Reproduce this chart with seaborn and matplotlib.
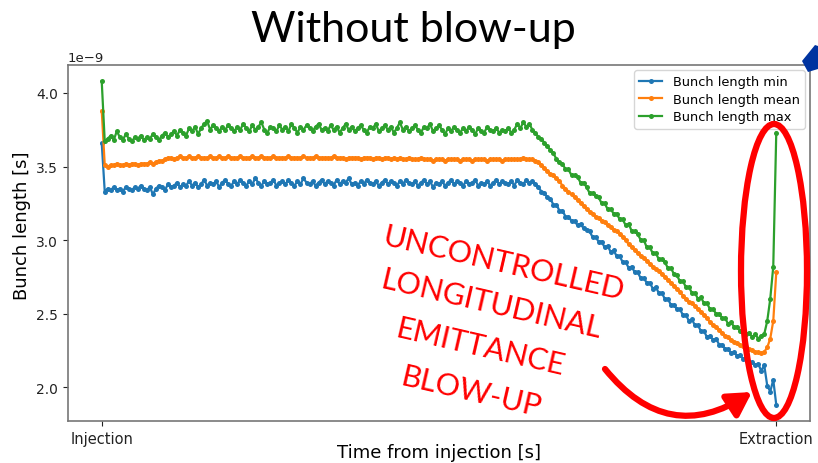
import numpy as np
import matplotlib
matplotlib.use("Agg")
import matplotlib.pyplot as plt
import seaborn as sns
from matplotlib.patches import Ellipse, FancyArrowPatch, Polygon

# bunch length per sample, in ns
bl_min = [
    3.66, 3.33, 3.35, 3.34, 3.36, 3.34, 3.35, 3.33, 3.36, 3.35, 3.34, 3.36, 3.35, 3.37, 3.35,
    3.34, 3.36, 3.31, 3.35, 3.37, 3.36, 3.34, 3.38, 3.36, 3.37, 3.39, 3.36, 3.38, 3.37, 3.40,
    3.37, 3.39, 3.36, 3.38, 3.41, 3.37, 3.39, 3.38, 3.40, 3.36, 3.39, 3.41, 3.38, 3.37, 3.40,
    3.38, 3.41, 3.39, 3.37, 3.40, 3.38, 3.42, 3.39, 3.37, 3.40, 3.38, 3.39, 3.41, 3.37, 3.39,
    3.40, 3.38, 3.41, 3.39, 3.37, 3.40, 3.38, 3.42, 3.39, 3.38, 3.40, 3.37, 3.39, 3.41, 3.38,
    3.40, 3.39, 3.37, 3.41, 3.38, 3.40, 3.39, 3.42, 3.38, 3.39, 3.37, 3.40, 3.38, 3.41, 3.39,
    3.38, 3.40, 3.37, 3.39, 3.41, 3.38, 3.40, 3.39, 3.37, 3.40, 3.38, 3.41, 3.39, 3.38, 3.40,
    3.37, 3.39, 3.41, 3.38, 3.40, 3.36, 3.39, 3.38, 3.40, 3.37, 3.39, 3.41, 3.38, 3.40, 3.39,
    3.37, 3.40, 3.38, 3.39, 3.41, 3.37, 3.39, 3.38, 3.40, 3.37, 3.39, 3.41, 3.38, 3.40, 3.39,
    3.38, 3.40, 3.37, 3.41, 3.39, 3.38, 3.41, 3.39, 3.40, 3.38, 3.36, 3.33, 3.32, 3.29, 3.28,
    3.24, 3.24, 3.20, 3.20, 3.16, 3.16, 3.13, 3.13, 3.10, 3.11, 3.08, 3.07, 3.06, 3.02, 3.02,
    2.99, 2.99, 2.95, 2.96, 2.92, 2.93, 2.89, 2.89, 2.85, 2.85, 2.81, 2.82, 2.78, 2.78, 2.74,
    2.74, 2.71, 2.71, 2.67, 2.68, 2.64, 2.64, 2.60, 2.60, 2.56, 2.56, 2.53, 2.53, 2.49, 2.49,
    2.45, 2.46, 2.42, 2.42, 2.38, 2.38, 2.34, 2.35, 2.32, 2.33, 2.29, 2.29, 2.26, 2.26, 2.23,
    2.24, 2.21, 2.22, 2.19, 2.20, 2.17, 2.17, 2.15, 2.16, 2.11, 2.15, 2.01, 1.97, 2.05, 1.88,
]
bl_mean = [
    3.88, 3.51, 3.50, 3.51, 3.51, 3.52, 3.51, 3.51, 3.52, 3.51, 3.52, 3.52, 3.51, 3.52, 3.52,
    3.52, 3.53, 3.52, 3.53, 3.54, 3.54, 3.55, 3.56, 3.56, 3.55, 3.56, 3.57, 3.56, 3.56, 3.57,
    3.56, 3.56, 3.57, 3.56, 3.56, 3.56, 3.57, 3.56, 3.56, 3.57, 3.56, 3.56, 3.57, 3.56, 3.56,
    3.56, 3.57, 3.56, 3.56, 3.56, 3.57, 3.56, 3.56, 3.57, 3.56, 3.56, 3.56, 3.57, 3.56, 3.56,
    3.56, 3.56, 3.57, 3.56, 3.56, 3.56, 3.56, 3.57, 3.56, 3.56, 3.56, 3.57, 3.56, 3.56, 3.56,
    3.56, 3.56, 3.57, 3.56, 3.56, 3.56, 3.55, 3.56, 3.56, 3.56, 3.56, 3.55, 3.56, 3.56, 3.56,
    3.55, 3.56, 3.56, 3.55, 3.56, 3.56, 3.55, 3.56, 3.55, 3.56, 3.55, 3.55, 3.56, 3.55, 3.55,
    3.55, 3.56, 3.55, 3.55, 3.55, 3.54, 3.55, 3.55, 3.55, 3.54, 3.55, 3.55, 3.55, 3.55, 3.54,
    3.55, 3.55, 3.55, 3.54, 3.55, 3.55, 3.55, 3.55, 3.54, 3.55, 3.55, 3.55, 3.55, 3.54, 3.55,
    3.55, 3.55, 3.55, 3.55, 3.55, 3.56, 3.55, 3.55, 3.55, 3.54, 3.53, 3.51, 3.49, 3.47, 3.45,
    3.44, 3.42, 3.40, 3.37, 3.35, 3.33, 3.31, 3.29, 3.27, 3.25, 3.23, 3.21, 3.19, 3.18, 3.16,
    3.15, 3.13, 3.12, 3.10, 3.09, 3.07, 3.06, 3.04, 3.02, 3.00, 2.97, 2.95, 2.93, 2.91, 2.89,
    2.88, 2.86, 2.84, 2.82, 2.80, 2.79, 2.77, 2.75, 2.73, 2.71, 2.69, 2.67, 2.65, 2.62, 2.60,
    2.58, 2.57, 2.55, 2.53, 2.51, 2.49, 2.47, 2.44, 2.42, 2.41, 2.39, 2.37, 2.35, 2.34, 2.32,
    2.31, 2.30, 2.29, 2.28, 2.27, 2.26, 2.25, 2.24, 2.24, 2.23, 2.24, 2.27, 2.33, 2.45, 2.78,
]
bl_max = [
    4.08, 3.67, 3.69, 3.71, 3.68, 3.74, 3.70, 3.68, 3.72, 3.69, 3.67, 3.70, 3.69, 3.71, 3.68,
    3.70, 3.69, 3.72, 3.70, 3.68, 3.71, 3.73, 3.70, 3.72, 3.74, 3.71, 3.75, 3.73, 3.71, 3.76,
    3.74, 3.77, 3.72, 3.76, 3.79, 3.81, 3.75, 3.78, 3.76, 3.74, 3.77, 3.75, 3.78, 3.76, 3.74,
    3.77, 3.75, 3.79, 3.76, 3.74, 3.78, 3.75, 3.77, 3.80, 3.75, 3.73, 3.77, 3.76, 3.74, 3.78,
    3.75, 3.77, 3.74, 3.79, 3.76, 3.73, 3.77, 3.75, 3.78, 3.76, 3.74, 3.77, 3.79, 3.75, 3.76,
    3.74, 3.78, 3.75, 3.77, 3.73, 3.76, 3.79, 3.75, 3.77, 3.74, 3.76, 3.78, 3.75, 3.73, 3.77,
    3.76, 3.79, 3.74, 3.76, 3.78, 3.75, 3.77, 3.73, 3.76, 3.80, 3.75, 3.77, 3.74, 3.76, 3.78,
    3.75, 3.73, 3.77, 3.76, 3.79, 3.74, 3.76, 3.78, 3.75, 3.72, 3.76, 3.74, 3.77, 3.75, 3.73,
    3.76, 3.74, 3.77, 3.75, 3.72, 3.76, 3.74, 3.73, 3.77, 3.75, 3.74, 3.76, 3.73, 3.75, 3.74,
    3.76, 3.73, 3.75, 3.79, 3.76, 3.80, 3.77, 3.79, 3.75, 3.73, 3.70, 3.69, 3.66, 3.64, 3.61,
    3.59, 3.55, 3.53, 3.52, 3.48, 3.48, 3.44, 3.44, 3.43, 3.39, 3.39, 3.36, 3.32, 3.32, 3.30,
    3.29, 3.25, 3.25, 3.21, 3.21, 3.18, 3.18, 3.14, 3.14, 3.10, 3.11, 3.06, 3.06, 3.04, 3.00,
    3.00, 2.95, 2.95, 2.91, 2.91, 2.87, 2.87, 2.85, 2.81, 2.81, 2.77, 2.76, 2.72, 2.72, 2.68,
    2.68, 2.64, 2.64, 2.60, 2.61, 2.57, 2.57, 2.53, 2.53, 2.50, 2.50, 2.47, 2.47, 2.43, 2.44,
    2.41, 2.41, 2.38, 2.39, 2.36, 2.37, 2.34, 2.36, 2.33, 2.35, 2.36, 2.45, 2.60, 2.82, 3.73,
]
series_names = ["Bunch length min", "Bunch length mean", "Bunch length max"]
tick_labels = ["Injection", "Extraction"]
note_lines = ["UNCONTROLLED", "LONGITUDINAL", "EMITTANCE", "BLOW-UP"]

W, H = 818, 464


def fx(px):
    return px / W


def fy(py):
    return 1 - py / H


fig = plt.figure(figsize=(W / 100, H / 100), dpi=100)
ax_bottom, ax_top = 422, 66
ax = fig.add_axes([fx(68), fy(ax_bottom), (810 - 68) / W, (ax_bottom - ax_top) / H])

t = np.arange(len(bl_min))
colors = sns.color_palette("tab10")[:3]
for vals, name, c in zip([bl_min, bl_mean, bl_max], series_names, colors):
    sns.lineplot(x=t, y=np.array(vals) * 1e-9, ax=ax, color=c, label=name,
                 marker="o", markersize=3.6, markeredgewidth=0, linewidth=1.6,
                 estimator=None, sort=False)

ax.set_xticks([0, len(t) - 1], tick_labels)
ax.set_xlabel("Time from injection [s]", fontsize=13)
ax.set_ylabel("Bunch length [s]", fontsize=13)
h = ax_bottom - ax_top
ax.xaxis.set_label_coords(0.5, (ax_bottom - 444) / h)
ax.yaxis.set_label_coords((31 - 68) / 742, (ax_bottom - 226) / h)
ax.tick_params(axis="x", labelsize=10.5, colors="#222222")
ax.tick_params(axis="y", labelsize=10, colors="#222222")
ax.yaxis.get_offset_text().set_fontsize(9.5)
for sp in ax.spines.values():
    sp.set_color("#777777")
    sp.set_linewidth(1.2)
ax.legend(loc="upper right", fontsize=9.3, handlelength=1.8, labelspacing=0.35,
          borderaxespad=0.4)

# slide decorations
fig.text(fx(413), fy(30), "Without blow-up", ha="center", va="center",
         fontsize=31, family="Lato")
starts = [(382, 245), (379, 288), (394, 337), (399, 385)]
for s, (x0, y0) in zip(note_lines, starts):
    fig.text(fx(x0), fy(y0), s, rotation=-13, rotation_mode="anchor",
             ha="left", va="baseline", color="red", fontsize=22, family="Lato")

fig.patches.append(Ellipse((fx(774), fy(272)), 66 / W, 294 / H, fill=False,
                           ec="red", lw=4.5, transform=fig.transFigure, zorder=5))
fig.patches.append(FancyArrowPatch((fx(605), fy(370)), (fx(752), fy(393)),
                                   connectionstyle="arc3,rad=0.45",
                                   arrowstyle="-|>,head_length=0.7,head_width=0.4",
                                   mutation_scale=20, lw=4.5, color="red",
                                   shrinkA=0, shrinkB=0, capstyle="round",
                                   transform=fig.transFigure, zorder=5))
fig.patches.append(Polygon([(fx(802), fy(62)), (fx(815), fy(46)), (fx(818), fy(47)),
                            (fx(818), fy(70)), (fx(808), fy(73))], closed=True,
                           fc="#0033a0", ec="none", transform=fig.transFigure, zorder=5))

fig.savefig("out.png", dpi=100)
